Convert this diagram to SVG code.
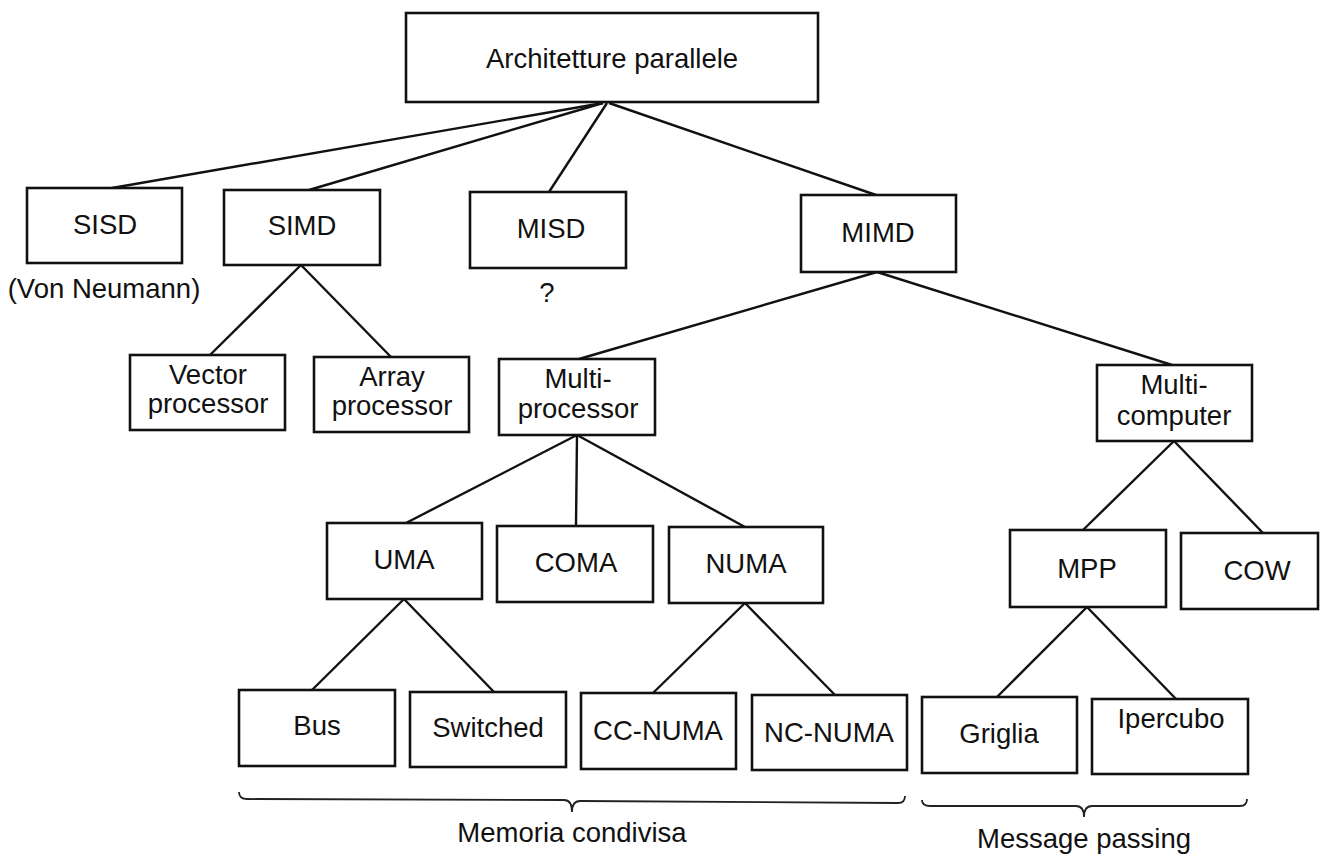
<svg xmlns="http://www.w3.org/2000/svg" width="1321" height="856" viewBox="0 0 1321 856">
<style>
.box{fill:#fff;stroke:#111;stroke-width:2.6}
.t{font-family:"Liberation Sans",Arial,sans-serif;font-size:27.5px;fill:#111;text-anchor:middle}
.ln{stroke:#111;stroke-width:2.4;fill:none}
.br{stroke:#222;stroke-width:1.8;fill:none}
</style>
<rect width="1321" height="856" fill="#fff"/>
<g id="connectors">
<line class="ln" x1="603" y1="103" x2="112" y2="188"/>
<line class="ln" x1="603" y1="103" x2="309" y2="190"/>
<line class="ln" x1="607" y1="103" x2="549" y2="192"/>
<line class="ln" x1="609" y1="103" x2="876" y2="195"/>
<line class="ln" x1="301" y1="265" x2="210" y2="355"/>
<line class="ln" x1="301" y1="265" x2="391" y2="357"/>
<line class="ln" x1="877" y1="272" x2="579" y2="359"/>
<line class="ln" x1="877" y1="272" x2="1172" y2="365"/>
<line class="ln" x1="577" y1="435" x2="406" y2="523"/>
<line class="ln" x1="577" y1="435" x2="576" y2="526"/>
<line class="ln" x1="577" y1="435" x2="745" y2="527"/>
<line class="ln" x1="1174" y1="441" x2="1083" y2="530"/>
<line class="ln" x1="1174" y1="441" x2="1263" y2="533"/>
<line class="ln" x1="404" y1="599" x2="312" y2="690"/>
<line class="ln" x1="404" y1="599" x2="494" y2="692"/>
<line class="ln" x1="745" y1="603" x2="653" y2="693"/>
<line class="ln" x1="745" y1="603" x2="835" y2="695"/>
<line class="ln" x1="1087" y1="607" x2="997" y2="697"/>
<line class="ln" x1="1087" y1="607" x2="1176" y2="699"/>
</g>
<g id="root"><rect class="box" x="406" y="13" width="412" height="89"/><text class="t" x="612" y="68">Architetture parallele</text></g>
<g id="sisd"><rect class="box" x="27" y="188" width="155" height="75"/><text class="t" x="105" y="234">SISD</text></g>
<text class="t" x="104" y="298">(Von Neumann)</text>
<g id="simd"><rect class="box" x="224" y="190" width="156" height="75"/><text class="t" x="302" y="235">SIMD</text></g>
<g id="misd"><rect class="box" x="470" y="192" width="156" height="76"/><text class="t" x="551" y="238">MISD</text></g>
<text class="t" x="547" y="302">?</text>
<g id="mimd"><rect class="box" x="801" y="195" width="155" height="77"/><text class="t" x="878" y="242">MIMD</text></g>
<g id="vector"><rect class="box" x="130" y="355" width="155" height="75"/><text class="t" x="208" y="384">Vector</text><text class="t" x="208" y="413">processor</text></g>
<g id="array"><rect class="box" x="314" y="357" width="155" height="75"/><text class="t" x="392" y="386">Array</text><text class="t" x="392" y="415">processor</text></g>
<g id="multiprocessor"><rect class="box" x="499" y="359" width="156" height="76"/><text class="t" x="578" y="388">Multi-</text><text class="t" x="578" y="418">processor</text></g>
<g id="multicomputer"><rect class="box" x="1097" y="365" width="155" height="76"/><text class="t" x="1174" y="394">Multi-</text><text class="t" x="1174" y="425">computer</text></g>
<g id="uma"><rect class="box" x="327" y="523" width="155" height="76"/><text class="t" x="404" y="569">UMA</text></g>
<g id="coma"><rect class="box" x="497" y="526" width="156" height="76"/><text class="t" x="576" y="572">COMA</text></g>
<g id="numa"><rect class="box" x="669" y="527" width="154" height="76"/><text class="t" x="746" y="573">NUMA</text></g>
<g id="mpp"><rect class="box" x="1010" y="530" width="156" height="77"/><text class="t" x="1087" y="578">MPP</text></g>
<g id="cow"><rect class="box" x="1181" y="533" width="137" height="76"/><text class="t" x="1257" y="580">COW</text></g>
<g id="bus"><rect class="box" x="239" y="690" width="156" height="76"/><text class="t" x="317" y="735">Bus</text></g>
<g id="switched"><rect class="box" x="410" y="692" width="156" height="75"/><text class="t" x="488" y="737">Switched</text></g>
<g id="ccnuma"><rect class="box" x="581" y="693" width="155" height="76"/><text class="t" x="658" y="740">CC-NUMA</text></g>
<g id="ncnuma"><rect class="box" x="752" y="695" width="155" height="75"/><text class="t" x="829" y="742">NC-NUMA</text></g>
<g id="griglia"><rect class="box" x="922" y="697" width="155" height="76"/><text class="t" x="999" y="743">Griglia</text></g>
<g id="ipercubo"><rect class="box" x="1092" y="699" width="156" height="75"/><text class="t" x="1171" y="728">Ipercubo</text></g>
<g id="braces">
<path class="br" d="M239,792 Q239,799 247,799 L564,800 Q572,800 572,812 Q572,801 580,801 L898,803 Q905,803 905,796"/>
<path class="br" d="M922,800 Q922,806 930,806 L1076,806 Q1084,806 1084,817 Q1084,806 1092,806 L1240,806 Q1247,806 1247,799"/>
</g>
<text class="t" x="572" y="842">Memoria condivisa</text>
<text class="t" x="1084" y="848">Message passing</text>
</svg>
